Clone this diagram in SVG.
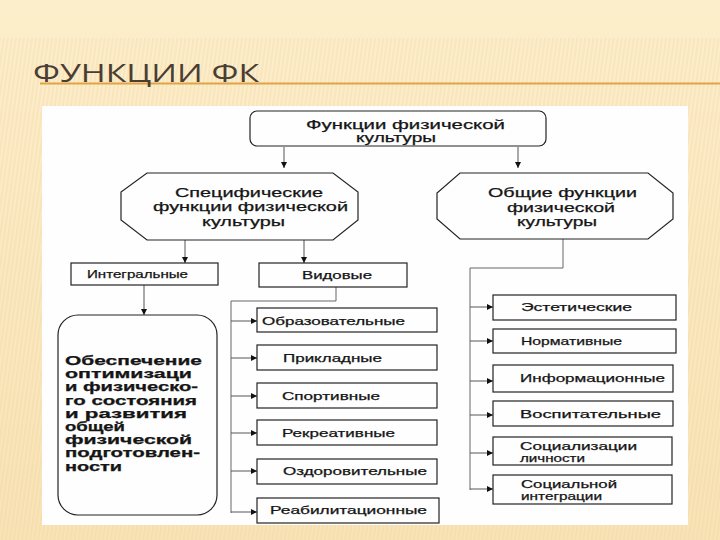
<svg xmlns="http://www.w3.org/2000/svg" width="720" height="540" viewBox="0 0 720 540">
  <defs>
    <linearGradient id="bg" x1="0" y1="0" x2="0" y2="1">
      <stop offset="0" stop-color="#fdeecb"/>
      <stop offset="1" stop-color="#f9e3b6"/>
    </linearGradient>
    <pattern id="hatch" width="4" height="8" patternUnits="userSpaceOnUse" patternTransform="rotate(8)">
      <line x1="1" y1="0" x2="1" y2="8" stroke="#e6c88e" stroke-width="1" opacity="0.35"/>
    </pattern>
    <marker id="ah" viewBox="0 0 8 8" refX="8" refY="4" markerWidth="6" markerHeight="6" orient="auto" markerUnits="userSpaceOnUse">
      <path d="M0,0 L8,4 L0,8 Z" fill="#111"/>
    </marker>
    <style>
      .box { fill: none; stroke: #222; stroke-width: 1.2; }
      .t { font-family: "Liberation Sans", Arial, sans-serif; fill: #151515; stroke: #151515; stroke-width: 0.25; }
      .h { font-size: 12.5px; }
      .s { font-size: 11px; }
      .s2 { font-size: 10.5px; }
      .b { font-size: 12px; font-weight: bold; }
      .con { fill: none; stroke: #666; stroke-width: 1; }
      .arr { fill: none; stroke: #555; stroke-width: 1; marker-end: url(#ah); }
    </style>
  </defs>

  <!-- slide background -->
  <rect x="0" y="0" width="720" height="540" fill="url(#bg)"/>
  <rect x="0" y="38" width="720" height="502" fill="url(#hatch)"/>

  <!-- title -->
  <line x1="40" y1="83.5" x2="720" y2="83.5" stroke="#e0a346" stroke-width="2"/>
  <text x="33" y="82" font-family="'Open Sans', 'Liberation Sans', sans-serif" font-size="26" fill="#4a3e34" textLength="226" lengthAdjust="spacingAndGlyphs">ФУНКЦИИ ФК</text>

  <!-- picture area -->
  <rect x="42" y="106" width="646" height="419" fill="#fefefe"/>

  <!-- connectors -->
  <g id="connectors">
    <line class="arr" x1="284" y1="147" x2="284" y2="168"/>
    <line class="arr" x1="518" y1="147" x2="518" y2="168"/>
    <line class="arr" x1="185" y1="240" x2="185" y2="263"/>
    <line class="arr" x1="304" y1="240" x2="304" y2="263"/>
    <line class="arr" x1="144" y1="285" x2="144" y2="315"/>

    <polyline class="con" points="336,287 336,301 231,301 231,513"/>
    <line class="arr" x1="231" y1="321" x2="257" y2="321"/>
    <line class="arr" x1="231" y1="358" x2="257" y2="358"/>
    <line class="arr" x1="231" y1="396" x2="257" y2="396"/>
    <line class="arr" x1="231" y1="433" x2="257" y2="433"/>
    <line class="arr" x1="231" y1="471" x2="257" y2="471"/>
    <line class="arr" x1="231" y1="512" x2="257" y2="512"/>

    <polyline class="con" points="563,239 563,268 470,268 470,490"/>
    <line class="arr" x1="470" y1="307" x2="493" y2="307"/>
    <line class="arr" x1="470" y1="341" x2="493" y2="341"/>
    <line class="arr" x1="470" y1="381" x2="493" y2="381"/>
    <line class="arr" x1="470" y1="415" x2="493" y2="415"/>
    <line class="arr" x1="470" y1="453" x2="493" y2="453"/>
    <line class="arr" x1="470" y1="489" x2="493" y2="489"/>
  </g>

  <!-- nodes -->
  <g id="root">
    <rect class="box" x="250" y="111" width="296" height="35" rx="7"/>
    <text class="t h" x="306" y="129" textLength="199" lengthAdjust="spacingAndGlyphs">Функции физической</text>
    <text class="t h" x="356" y="142" textLength="80" lengthAdjust="spacingAndGlyphs">культуры</text>
  </g>

  <g id="specific">
    <polygon class="box" points="147,173 333,173 358,192 358,220 333,240 147,240 121,220 121,192"/>
    <text class="t h" x="175" y="197" textLength="148" lengthAdjust="spacingAndGlyphs">Специфические</text>
    <text class="t h" x="153" y="211" textLength="195" lengthAdjust="spacingAndGlyphs">функции физической</text>
    <text class="t h" x="202" y="226" textLength="83" lengthAdjust="spacingAndGlyphs">культуры</text>
  </g>

  <g id="general">
    <polygon class="box" points="460,173 648,173 673,193 673,219 648,239 460,239 437,219 437,193"/>
    <text class="t h" x="488" y="197" textLength="149" lengthAdjust="spacingAndGlyphs">Общие функции</text>
    <text class="t h" x="507" y="212" textLength="108" lengthAdjust="spacingAndGlyphs">физической</text>
    <text class="t h" x="517" y="226" textLength="80" lengthAdjust="spacingAndGlyphs">культуры</text>
  </g>

  <g id="integral">
    <rect class="box" x="71" y="263" width="147" height="22"/>
    <text class="t s" x="87" y="278" textLength="101" lengthAdjust="spacingAndGlyphs">Интегральные</text>
  </g>

  <g id="species">
    <rect class="box" x="259" y="263" width="148" height="24"/>
    <text class="t s" x="302" y="279" textLength="70" lengthAdjust="spacingAndGlyphs">Видовые</text>
  </g>

  <g id="optimization">
    <rect class="box" x="58" y="315" width="159" height="200" rx="20"/>
    <text class="t b" x="65" y="365" textLength="137" lengthAdjust="spacingAndGlyphs">Обеспечение</text>
    <text class="t b" x="65" y="378.2" textLength="127" lengthAdjust="spacingAndGlyphs">оптимизаци</text>
    <text class="t b" x="65" y="391.4" textLength="133" lengthAdjust="spacingAndGlyphs">и физическо-</text>
    <text class="t b" x="65" y="404.6" textLength="132" lengthAdjust="spacingAndGlyphs">го состояния</text>
    <text class="t b" x="65" y="417.8" textLength="122" lengthAdjust="spacingAndGlyphs">и  развития</text>
    <text class="t b" x="65" y="431" textLength="60" lengthAdjust="spacingAndGlyphs">общей</text>
    <text class="t b" x="65" y="444.2" textLength="127" lengthAdjust="spacingAndGlyphs">физической</text>
    <text class="t b" x="65" y="457.4" textLength="135" lengthAdjust="spacingAndGlyphs">подготовлен-</text>
    <text class="t b" x="65" y="470.6" textLength="57" lengthAdjust="spacingAndGlyphs">ности</text>
  </g>

  <g id="educational">
    <rect class="box" x="257" y="308" width="180" height="24"/>
    <text class="t s" x="262" y="325" textLength="143" lengthAdjust="spacingAndGlyphs">Образовательные</text>
  </g>
  <g id="applied">
    <rect class="box" x="257" y="345" width="180" height="25"/>
    <text class="t s" x="283" y="362" textLength="99" lengthAdjust="spacingAndGlyphs">Прикладные</text>
  </g>
  <g id="sport">
    <rect class="box" x="257" y="383" width="180" height="25"/>
    <text class="t s" x="282" y="400" textLength="98" lengthAdjust="spacingAndGlyphs">Спортивные</text>
  </g>
  <g id="recreational">
    <rect class="box" x="257" y="420" width="180" height="25"/>
    <text class="t s" x="282" y="437" textLength="113" lengthAdjust="spacingAndGlyphs">Рекреативные</text>
  </g>
  <g id="health">
    <rect class="box" x="257" y="459" width="180" height="25"/>
    <text class="t s" x="283" y="475" textLength="144" lengthAdjust="spacingAndGlyphs">Оздоровительные</text>
  </g>
  <g id="rehab">
    <rect class="box" x="257" y="498" width="182" height="25"/>
    <text class="t s" x="270" y="514" textLength="157" lengthAdjust="spacingAndGlyphs">Реабилитационные</text>
  </g>

  <g id="aesthetic">
    <rect class="box" x="493" y="295" width="183" height="25"/>
    <text class="t s" x="521" y="311" textLength="111" lengthAdjust="spacingAndGlyphs">Эстетические</text>
  </g>
  <g id="normative">
    <rect class="box" x="493" y="329" width="183" height="24"/>
    <text class="t s" x="521" y="345" textLength="101" lengthAdjust="spacingAndGlyphs">Нормативные</text>
  </g>
  <g id="informational">
    <rect class="box" x="493" y="365" width="180" height="27"/>
    <text class="t s" x="520" y="382" textLength="145" lengthAdjust="spacingAndGlyphs">Информационные</text>
  </g>
  <g id="upbringing">
    <rect class="box" x="493" y="401" width="180" height="25"/>
    <text class="t s" x="520" y="418" textLength="141" lengthAdjust="spacingAndGlyphs">Воспитательные</text>
  </g>
  <g id="socialization">
    <rect class="box" x="493" y="437" width="179" height="28"/>
    <text class="t s2" x="520" y="450" textLength="117" lengthAdjust="spacingAndGlyphs">Социализации</text>
    <text class="t s2" x="520" y="462" textLength="65" lengthAdjust="spacingAndGlyphs">личности</text>
  </g>
  <g id="integration">
    <rect class="box" x="493" y="475" width="179" height="29"/>
    <text class="t s2" x="521" y="488" textLength="96" lengthAdjust="spacingAndGlyphs">Социальной</text>
    <text class="t s2" x="521" y="500" textLength="81" lengthAdjust="spacingAndGlyphs">интеграции</text>
  </g>
</svg>
